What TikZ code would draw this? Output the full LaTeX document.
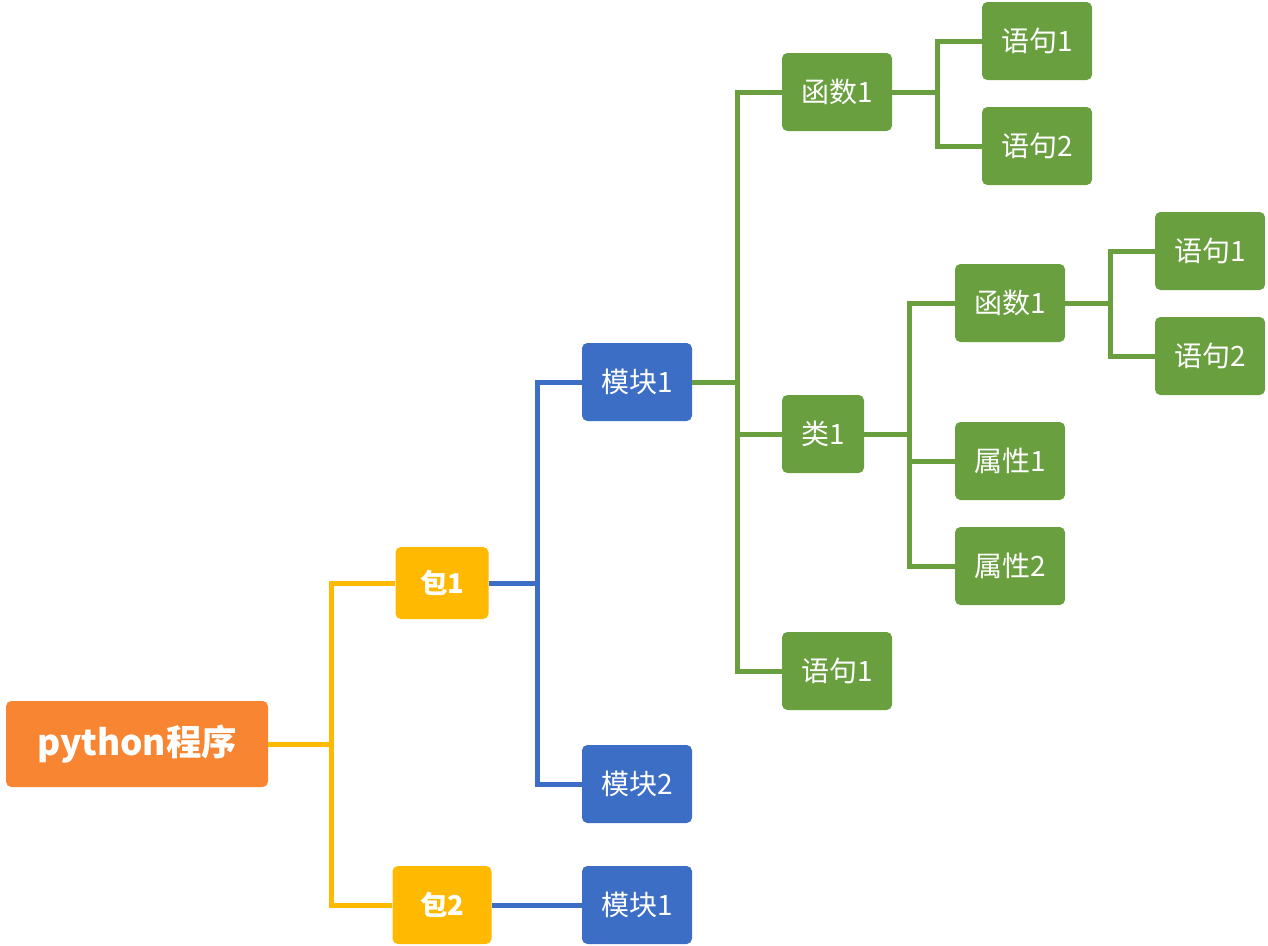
\documentclass[tikz,border=0pt]{standalone}
\usepackage{fontspec}
\setmainfont{Noto Sans CJK SC}
\definecolor{corange}{HTML}{F88531}
\definecolor{cyellow}{HTML}{FFB900}
\definecolor{cblue}{HTML}{3D6EC5}
\definecolor{cgreen}{HTML}{6A9F40}
\begin{document}
\begin{tikzpicture}[x=0.75pt,y=-0.75pt,
  box/.style={rectangle,rounded corners=4pt,inner sep=0pt,text=white,font=\fontsize{21}{24}\selectfont},
  sz/.style 2 args={minimum width=#1*0.75pt,minimum height=#2*0.75pt},
  rootbox/.style={box,fill=corange,font=\fontsize{26.5}{30}\selectfont\bfseries},
  ybox/.style={box,fill=cyellow,font=\fontsize{20.5}{24}\selectfont\bfseries},
  bbox/.style={box,fill=cblue},
  gbox/.style={box,fill=cgreen},
  ln/.style={line width=3.75pt,line join=miter},
  yl/.style={ln,draw=cyellow},
  bl/.style={ln,draw=cblue},
  gl/.style={ln,draw=cgreen}]
\useasboundingbox (0,0) rectangle (1268,946);
% bus coordinates
\coordinate (b0) at (331,0);
\coordinate (b1) at (537,0);
\coordinate (b2) at (737,0);
\coordinate (b3) at (937,0);
\coordinate (b4) at (909,0);
\coordinate (b5) at (1110,0);
% nodes
\node[rootbox,sz={262}{86}] (root) at (137,744) {python程序};
\node[ybox,sz={93}{72}] (p1) at (442,583) {包1};
\node[ybox,sz={99}{78}] (p2) at (442,905) {包2};
\node[bbox,sz={110}{78}] (m1) at (637,382) {模块1};
\node[bbox,sz={110}{78}] (m2) at (637,784) {模块2};
\node[bbox,sz={110}{78}] (m3) at (637,905) {模块1};
\node[gbox,sz={110}{78}] (f1) at (837,92) {函数1};
\node[gbox,sz={82}{78}] (c1) at (823,434) {类1};
\node[gbox,sz={110}{78}] (s0) at (837,671) {语句1};
\node[gbox,sz={110}{78}] (s1) at (1037,41) {语句1};
\node[gbox,sz={110}{78}] (s2) at (1037,146) {语句2};
\node[gbox,sz={110}{78}] (f2) at (1010,303) {函数1};
\node[gbox,sz={110}{78}] (a1) at (1010,461) {属性1};
\node[gbox,sz={110}{78}] (a2) at (1010,566) {属性2};
\node[gbox,sz={110}{78}] (s3) at (1210,251) {语句1};
\node[gbox,sz={110}{78}] (s4) at (1210,356) {语句2};
% connectors
\draw[yl] (root.east) -- (root.east -| b0) |- (p1.west);
\draw[yl] (root.east) -- (root.east -| b0) |- (p2.west);
\draw[bl] (p1.east) -- (p1.east -| b1) |- (m1.west);
\draw[bl] (p1.east) -- (p1.east -| b1) |- (m2.west);
\draw[bl] (p2.east) -- (m3.west);
\draw[gl] (m1.east) -- (m1.east -| b2) |- (f1.west);
\draw[gl] (m1.east) -- (m1.east -| b2) |- (c1.west);
\draw[gl] (m1.east) -- (m1.east -| b2) |- (s0.west);
\draw[gl] (f1.east) -- (f1.east -| b3) |- (s1.west);
\draw[gl] (f1.east) -- (f1.east -| b3) |- (s2.west);
\draw[gl] (c1.east) -- (c1.east -| b4) |- (f2.west);
\draw[gl] (c1.east) -- (c1.east -| b4) |- (a1.west);
\draw[gl] (c1.east) -- (c1.east -| b4) |- (a2.west);
\draw[gl] (f2.east) -- (f2.east -| b5) |- (s3.west);
\draw[gl] (f2.east) -- (f2.east -| b5) |- (s4.west);
\end{tikzpicture}
\end{document}
